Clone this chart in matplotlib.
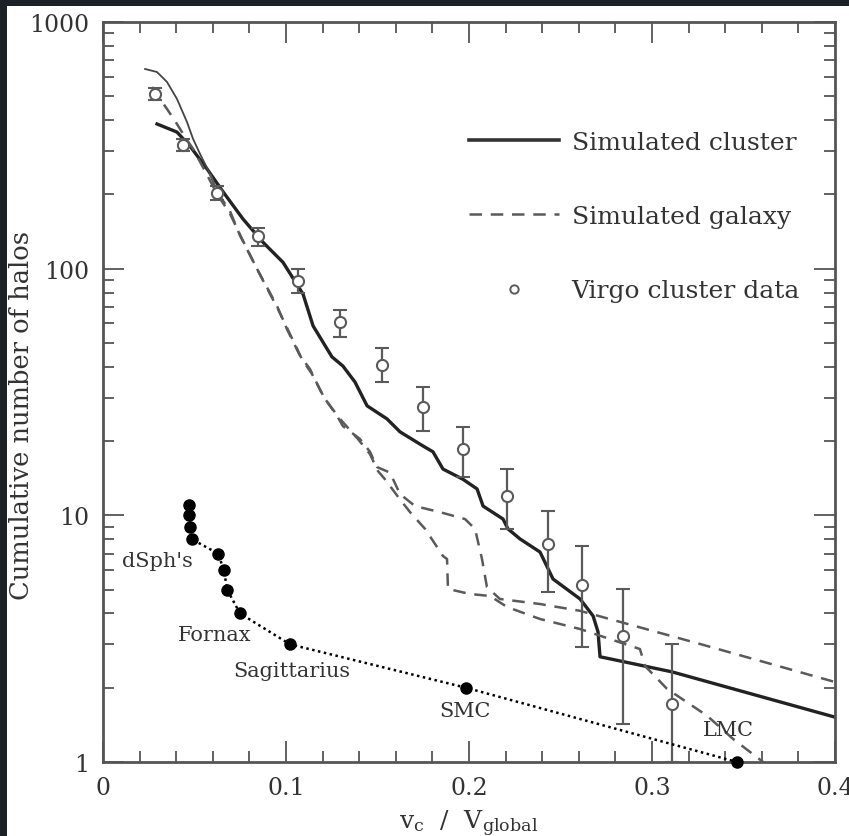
import matplotlib
matplotlib.use('Agg')
import matplotlib.pyplot as plt
from matplotlib.lines import Line2D
from matplotlib.patches import Rectangle
from matplotlib.ticker import FixedLocator, MultipleLocator, NullFormatter

plt.rcParams['font.family'] = 'DejaVu Serif'
plt.rcParams['mathtext.fontset'] = 'dejavuserif'

# simulated cluster (solid)
cluster_v = [0.0295, 0.0404, 0.0475, 0.0568, 0.0656, 0.0765, 0.0874, 0.0984, 0.1093, 0.1148,
             0.1251, 0.1311, 0.1377, 0.1443, 0.1552, 0.1623, 0.1749, 0.1803, 0.1858, 0.1967,
             0.2044, 0.2077, 0.2186, 0.2213, 0.2279, 0.2388, 0.2459, 0.2607, 0.2678, 0.2705,
             0.2716, 0.2770, 0.3109, 0.4]
cluster_n = [386, 358, 314, 254, 205, 159, 128, 106, 78.9, 58.6,
             43.9, 40.3, 34.7, 27.8, 24.6, 21.8, 19.1, 18.1, 15.4, 14.0,
             12.8, 10.9, 9.66, 8.81, 8.02, 7.10, 5.52, 4.58, 3.91, 3.37,
             2.67, 2.62, 2.32, 1.52]

# simulated galaxy, first halo
gal1_v = [0.0230, 0.0295, 0.0350, 0.0404, 0.0459, 0.0492, 0.0530, 0.0585, 0.0623, 0.0694,
          0.0749, 0.0842, 0.0951, 0.1005, 0.1077, 0.1131, 0.1202, 0.1279, 0.1311, 0.1404,
          0.1459, 0.1497, 0.1568, 0.1623, 0.1705, 0.1842, 0.1978, 0.2033, 0.2071, 0.2098,
          0.2169, 0.2388, 0.2607, 0.3262, 0.4]
gal1_n = [645, 627, 571, 488, 393, 336, 292, 242, 205, 171,
          136, 99.7, 70.6, 56.9, 44.3, 39.2, 30.5, 25.3, 23.0, 20.4,
          18.1, 15.7, 14.9, 12.2, 10.9, 10.3, 9.66, 8.81, 6.65, 5.12,
          4.58, 4.37, 4.10, 3.01, 2.11]

# simulated galaxy, second halo
gal2_v = [0.0268, 0.0311, 0.0350, 0.0404, 0.0448, 0.0492, 0.0557, 0.0623, 0.0694, 0.0760,
          0.0847, 0.0956, 0.1022, 0.1087, 0.1142, 0.1213, 0.1295, 0.1393, 0.1459, 0.1503,
          0.1541, 0.1623, 0.1678, 0.1760, 0.1858, 0.1880, 0.1885, 0.2005, 0.2115, 0.2208,
          0.2388, 0.2607, 0.2934, 0.2962, 0.3082, 0.3301, 0.3443, 0.3607]
gal2_n = [545, 488, 444, 386, 342, 306, 249, 201, 167, 132,
          97.9, 68.6, 54.3, 43.0, 37.4, 29.6, 24.6, 20.4, 17.7, 15.1,
          14.0, 11.6, 10.3, 8.81, 6.84, 6.65, 5.03, 4.80, 4.71, 4.25,
          3.80, 3.46, 2.87, 2.45, 1.98, 1.54, 1.24, 1.0]

# Virgo cluster data with error bars
virgo_v = [0.0284, 0.0437, 0.0623, 0.0847, 0.1066, 0.1295, 0.1525, 0.1749, 0.1967, 0.2208,
           0.2432, 0.2617, 0.2842, 0.3109]
virgo_n = [511, 317, 203, 136, 89, 60.8, 40.7, 27.5, 18.6, 12.0, 7.65, 5.22, 3.24, 1.72]
virgo_lo = [483, 300, 190, 124, 79.7, 52.8, 34.7, 22.0, 14.3, 8.8, 4.9, 2.93, 1.43, 1.0]
virgo_hi = [540, 336, 216, 146, 99.7, 68, 47.7, 33.1, 22.8, 15.4, 10.4, 7.5, 5.03, 3.01]

# Milky Way satellites
mw_v = [0.0470, 0.0470, 0.0475, 0.0486, 0.0628, 0.0661, 0.0678, 0.0749, 0.1022, 0.1984, 0.3464]
mw_n = [11, 10, 9, 8, 7, 6, 5, 4, 3, 2, 1]

sat_labels = ["dSph's", 'Fornax', 'Sagittarius', 'SMC', 'LMC']
sat_label_v = [0.0295, 0.0612, 0.1033, 0.1980, 0.3420]
sat_label_n = [6.55, 3.30, 2.34, 1.61, 1.36]

fig = plt.figure(figsize=(8.49, 8.37), dpi=100, facecolor='#1c2128')
fig.patches.append(Rectangle((7 / 849, 0), 1, 1 - 7 / 837, transform=fig.transFigure,
                             facecolor='white', edgecolor='none', zorder=-10))
ax = fig.add_axes([103 / 849, 1 - 763 / 837, 732 / 849, 740 / 837])
ax.set_facecolor('white')

gray = '#5a5a5a'
ax.plot(cluster_v, cluster_n, color='#222222', lw=2.4, solid_joinstyle='round')
ax.plot(gal1_v[:8], gal1_n[:8], color='#444444', lw=1.3)
ax.plot(gal1_v[7:], gal1_n[7:], color=gray, lw=1.8, dashes=(5, 3.5))
ax.plot(gal2_v, gal2_n, color=gray, lw=1.8, dashes=(5, 3.5))

yerr = [[n - lo for n, lo in zip(virgo_n, virgo_lo)], [hi - n for n, hi in zip(virgo_n, virgo_hi)]]
ax.errorbar(virgo_v, virgo_n, yerr=yerr, fmt='o', ms=8, mfc='white', mec=gray, mew=1.5,
            ecolor=gray, elinewidth=1.6, capsize=5, capthick=1.4, zorder=4)

ax.plot(mw_v, mw_n, color='black', ls=(0, (1, 1.4)), lw=1.8, marker='o', ms=8,
        mfc='black', mec='black', zorder=5, clip_on=False)

for lab, lv, ln in zip(sat_labels, sat_label_v, sat_label_n):
    ax.text(lv, ln, lab, fontsize=15, color='#333333', ha='center', va='center')

ax.set_xlim(0, 0.4)
ax.set_yscale('log')
ax.set_ylim(1, 1000)

ax.xaxis.set_major_locator(FixedLocator([0, 0.1, 0.2, 0.3, 0.4]))
ax.xaxis.set_minor_locator(MultipleLocator(0.02))
ax.set_xticklabels(['0', '0.1', '0.2', '0.3', '0.4'])
ax.yaxis.set_major_locator(FixedLocator([1, 10, 100, 1000]))
ax.set_yticklabels(['1', '10', '100', '1000'])
ax.yaxis.set_minor_formatter(NullFormatter())

ax.tick_params(which='both', direction='in', top=True, right=True, colors='#555555',
               labelcolor='#333333', labelsize=17, width=1.3)
ax.tick_params(which='major', length=15, pad=10)
ax.tick_params(which='minor', length=8)
for sp in ax.spines.values():
    sp.set_color('#555555')
    sp.set_linewidth(2)

ax.set_xlabel(r'$\mathrm{v_c\ \ /\ \ V_{global}}$', fontsize=18, color='#333333', labelpad=6)
ax.set_ylabel('Cumulative number of halos', fontsize=18.5, color='#333333')
ax.yaxis.set_label_coords(-0.094, 0.47)

handles = [Line2D([], [], color='#333333', lw=2.6),
           Line2D([], [], color=gray, lw=1.8, dashes=(5, 3.5)),
           Line2D([], [], ls='none', marker='o', ms=6, mfc='white', mec=gray, mew=1.4)]
ax.legend(handles, ['Simulated cluster', 'Simulated galaxy', 'Virgo cluster data'],
          loc='upper left', bbox_to_anchor=(0.50, 0.853), frameon=False, fontsize=18,
          handlelength=3.6, handletextpad=0.5, labelspacing=2.05, borderpad=0,
          borderaxespad=0, labelcolor='#333333')

fig.savefig('out.png', dpi=100, facecolor=fig.get_facecolor())
